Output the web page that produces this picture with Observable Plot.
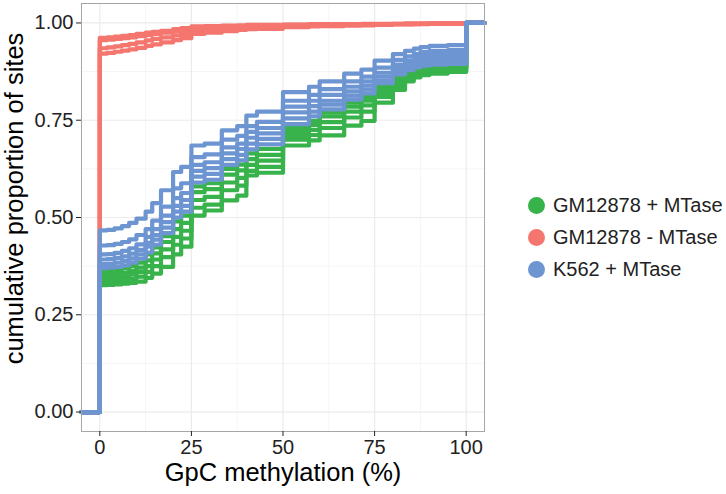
<!DOCTYPE html>
<html>
<head>
<meta charset="utf-8">
<script src="https://cdn.jsdelivr.net/npm/d3@7"></script>
<script src="https://cdn.jsdelivr.net/npm/@observablehq/plot@0.6"></script>
<style>
  body { margin: 0; background: white; font-family: "Liberation Sans", Arial, sans-serif; }
  #wrap { position: relative; width: 726px; height: 494px; }
  #legend { position: absolute; left: 528px; top: 189px; }
  .row { display: flex; align-items: center; height: 32px; font-size: 20px; color: #222; }
  .dot { width: 17px; height: 17px; border-radius: 50%; margin-right: 8px; }
</style>
</head>
<body>
<div id="wrap"><div id="chart"></div><div id="legend"></div></div>
<script>
// ---- data ----
const groups = ["GM12878 + MTase", "GM12878 - MTase", "K562 + MTase"];
const colors = ["#38b24b", "#f4766f", "#6d95d1"];

// GpC methylation (%) step positions shared by all curves
const X = [0, 2, 4, 6, 8, 10, 12.5, 14.3, 16.7, 20, 22.2, 25, 28.6, 33.3, 37.5, 40, 42.9, 50, 57.1, 60, 66.7, 71.4, 75, 80, 83.3, 85.7, 87.5, 90, 95, 100];

// GM12878 + MTase (green)
const G1 = [.362,.363,.365,.369,.375,.384,.405,.423,.452,.490,.505,.580,.588,.625,.636,.665,.676,.730,.748,.770,.795,.810,.838,.860,.872,.880,.886,.890,.892,1];
const G2 = [.352,.353,.355,.358,.363,.371,.390,.408,.437,.470,.486,.565,.573,.610,.621,.650,.661,.720,.738,.760,.785,.800,.830,.852,.866,.874,.880,.886,.888,1];
const G3 = [.343,.344,.346,.349,.353,.360,.375,.392,.418,.450,.466,.545,.553,.590,.602,.635,.646,.710,.725,.745,.772,.788,.820,.845,.860,.868,.875,.880,.883,1];
const G4 = [.334,.335,.337,.339,.342,.348,.360,.375,.398,.430,.446,.525,.533,.570,.582,.620,.630,.700,.712,.730,.757,.772,.810,.838,.855,.863,.870,.875,.878,1];
const G5 = [.326,.327,.328,.330,.332,.335,.345,.356,.373,.405,.425,.505,.518,.544,.556,.608,.615,.685,.698,.711,.736,.748,.795,.828,.850,.860,.866,.870,.874,1];

// GM12878 - MTase (red)
const R1 = [.962,.963,.965,.967,.969,.972,.975,.977,.980,.984,.987,.991,.992,.993,.994,.995,.995,.996,.997,.997,.997,.998,.998,.998,.999,.999,.999,.999,.999,1];
const R2 = [.956,.957,.959,.961,.963,.966,.969,.972,.975,.979,.982,.988,.989,.991,.992,.993,.993,.995,.996,.996,.997,.997,.997,.998,.998,.998,.998,.999,.999,1];
const R3 = [.935,.937,.940,.943,.946,.950,.955,.959,.963,.968,.972,.981,.983,.985,.987,.988,.989,.992,.993,.994,.995,.995,.996,.997,.997,.997,.998,.998,.999,1];
const R4 = [.921,.923,.926,.929,.932,.936,.941,.945,.950,.956,.961,.972,.975,.979,.982,.984,.985,.989,.991,.992,.993,.994,.995,.996,.996,.997,.997,.998,.998,1];

// K562 + MTase (blue)
const B1 = [.467,.468,.472,.478,.486,.497,.515,.537,.570,.617,.630,.685,.690,.724,.735,.762,.772,.822,.836,.850,.870,.880,.903,.920,.928,.934,.938,.941,.943,1];
const B2 = [.428,.429,.432,.437,.444,.455,.470,.492,.528,.575,.588,.655,.662,.700,.710,.735,.746,.800,.815,.830,.850,.862,.885,.905,.914,.920,.925,.928,.930,1];
const B3 = [.405,.406,.409,.414,.421,.431,.450,.470,.505,.550,.563,.635,.642,.680,.690,.720,.730,.785,.800,.815,.836,.850,.872,.893,.903,.910,.915,.918,.920,1];
const B4 = [.392,.393,.396,.400,.407,.417,.435,.455,.488,.530,.545,.620,.627,.665,.676,.705,.716,.770,.786,.800,.824,.839,.862,.884,.894,.901,.905,.908,.910,1];
const B5 = [.380,.381,.384,.388,.395,.405,.425,.443,.474,.515,.530,.605,.612,.650,.661,.690,.702,.755,.772,.790,.813,.829,.852,.875,.886,.893,.897,.900,.902,1];
const B6 = [.370,.371,.373,.377,.384,.394,.410,.430,.460,.500,.515,.590,.597,.635,.647,.675,.688,.740,.760,.778,.803,.819,.845,.868,.879,.886,.890,.893,.895,1];

const xTicks = [0, 25, 50, 75, 100];
const xMinor = [12.5, 37.5, 62.5, 87.5];
const yTicks = [0, 0.25, 0.5, 0.75, 1];
const yMinor = [0.125, 0.375, 0.625, 0.875];

// ---- build table (draw order: green, red, blue) ----
const series = [
  [groups[0], [G1, G2, G3, G4, G5]],
  [groups[1], [R1, R2, R3, R4]],
  [groups[2], [B1, B2, B3, B4, B5, B6]]
];
const rows = [];
let id = 0;
for (const [g, lines] of series) {
  for (const ys of lines) {
    id++;
    rows.push({id, group: g, x: -5, y: 0}); // ecdf padding (-Inf, 0)
    X.forEach((x, i) => rows.push({id, group: g, x, y: ys[i]}));
    rows.push({id, group: g, x: 105, y: 1}); // ecdf padding (Inf, 1)
  }
}

const chart = Plot.plot({
  width: 500,
  height: 494,
  marginLeft: 81,
  marginRight: 16,
  marginTop: 3,
  marginBottom: 63,
  style: {fontFamily: "'Liberation Sans', Arial, sans-serif", fontSize: "20px", background: "white", color: "#222"},
  x: {domain: [-5, 105]},
  y: {domain: [-0.05, 1.05]},
  color: {domain: groups, range: colors},
  marks: [
    Plot.gridX(xMinor, {stroke: "#f3f3f3", strokeOpacity: 1, strokeWidth: 0.8}),
    Plot.gridY(yMinor, {stroke: "#f3f3f3", strokeOpacity: 1, strokeWidth: 0.8}),
    Plot.gridX(xTicks, {stroke: "#ebebeb", strokeOpacity: 1, strokeWidth: 1.2}),
    Plot.gridY(yTicks, {stroke: "#ebebeb", strokeOpacity: 1, strokeWidth: 1.2}),
    Plot.line(rows, {x: "x", y: "y", z: "id", stroke: "group", curve: "step-after", strokeWidth: 4.2, strokeLinejoin: "round"}),
    Plot.frame({stroke: "#a6a6a6"}),
    Plot.axisX(xTicks, {tickSize: 5, tickPadding: 3, fontSize: 20, label: "GpC methylation (%)", labelAnchor: "center", labelOffset: 49, labelArrow: "none"}),
    Plot.axisY(yTicks, {tickFormat: d3.format(".2f"), tickSize: 5, tickPadding: 3, fontSize: 20, label: "cumulative proportion of sites", labelAnchor: "center", labelOffset: 77, labelArrow: "none"})
  ]
});
for (const sel of ['[aria-label="x-axis label"]', '[aria-label="y-axis label"]']) {
  const el = chart.querySelector(sel);
  if (el) { el.setAttribute("font-size", "25.5"); el.setAttribute("fill", "#000"); }
}
const yl = chart.querySelector('[aria-label="y-axis label"]');
if (yl) yl.setAttribute("transform", "translate(0,-19) " + (yl.getAttribute("transform") || ""));
document.getElementById("chart").appendChild(chart);

const legend = document.getElementById("legend");
groups.forEach((g, i) => {
  const row = document.createElement("div");
  row.className = "row";
  const dot = document.createElement("span");
  dot.className = "dot";
  dot.style.background = colors[i];
  const label = document.createElement("span");
  label.textContent = g;
  row.append(dot, label);
  legend.appendChild(row);
});
</script>
</body>
</html>
